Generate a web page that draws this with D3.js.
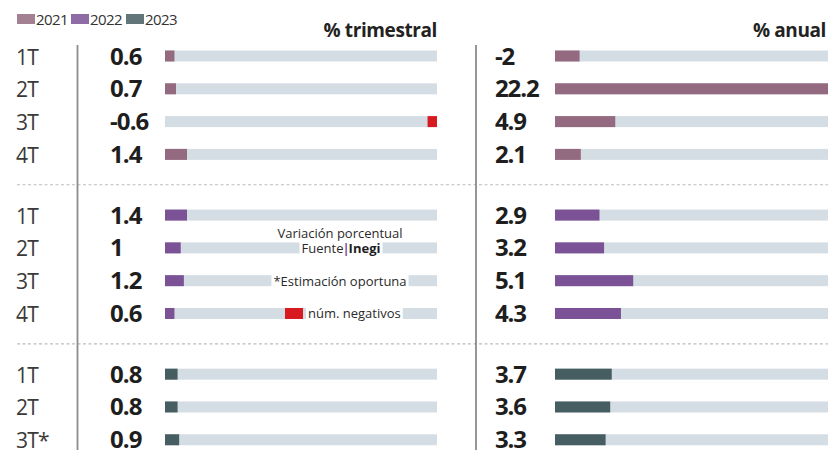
<!DOCTYPE html>
<meta charset="utf-8">
<style>
  body { margin: 0; background: #fff; }
  text { font-family: "Open Sans", "Noto Sans", sans-serif; }
</style>
<svg width="828" height="450"></svg>
<script src="https://cdn.jsdelivr.net/npm/d3@7"></script>
<script>
// data
var series = ["2021", "2022", "2023"]
var colors = ["#946a80", "#7a5295", "#465e62"]
var quarters = ["1T", "2T", "3T", "4T", "1T", "2T", "3T", "4T", "1T", "2T", "3T*"]
var rowYear = ["2021", "2021", "2021", "2021", "2022", "2022", "2022", "2022", "2023", "2023", "2023"]
var trimestral = [0.6, 0.7, -0.6, 1.4, 1.4, 1, 1.2, 0.6, 0.8, 0.8, 0.9]
var anual = [-2, 22.2, 4.9, 2.1, 2.9, 3.2, 5.1, 4.3, 3.7, 3.6, 3.3]
var negColor = "#d71920"
var trackColor = "#d5dde4"

const svg = d3.select('svg')
const color = d3.scaleOrdinal().domain(series).range(colors)
const groupIdx = y => series.indexOf(y)

// vertical position: row index plus a gap per year block
const yPos = d3.scaleLinear().domain([0, 1]).range([56, 88.8])
const slot = i => i + groupIdx(rowYear[i]) * 0.85
const yc = i => yPos(slot(i))

// horizontal scales
const xTri = d3.scaleLinear().domain([0, 17.3]).range([165, 437]).clamp(true)
// 2021 annual block is stretched to its own max, the rest share one
const xAnu21 = d3.scaleLinear().domain([0, 22.2]).range([555, 828]).clamp(true)
const xAnu = d3.scaleLinear().domain([0, 17.8]).range([555, 828]).clamp(true)

const rows = quarters.map((q, i) => ({ i, q, year: rowYear[i], tri: trimestral[i], anu: anual[i] }))

// legend
const leg = svg.append('g').attr('transform', 'translate(17,14)')
const legX = [0, 54, 109]
series.forEach((s, k) => {
  leg.append('rect').attr('x', legX[k]).attr('y', 0).attr('width', 18).attr('height', 10)
    .attr('fill', color(s)).attr('opacity', 0.85)
  leg.append('text').attr('x', legX[k] + 19).attr('y', 10.5).attr('font-size', 15)
    .attr('fill', '#333').attr('letter-spacing', -0.6).text(s)
})

// headers
svg.append('text').attr('x', 437).attr('y', 37).attr('text-anchor', 'end')
  .attr('font-size', 19).attr('font-weight', 700).attr('fill', '#222').attr('letter-spacing', -0.4)
  .text('% trimestral')
svg.append('text').attr('x', 826).attr('y', 37).attr('text-anchor', 'end')
  .attr('font-size', 19).attr('font-weight', 700).attr('fill', '#222').attr('letter-spacing', -0.4)
  .text('% anual')

// dashed separators between year blocks
const sepY = [3, 7].map(i => (yc(i) + yc(i + 1)) / 2)
svg.append('g').selectAll('line').data(sepY).enter().append('line')
  .attr('x1', 17).attr('x2', 828).attr('y1', d => d).attr('y2', d => d)
  .attr('stroke', '#bdbdbd').attr('stroke-width', 1.2).attr('stroke-dasharray', '3,2.5')

// vertical rules
svg.append('line').attr('x1', 77.5).attr('x2', 77.5).attr('y1', 45).attr('y2', 450)
  .attr('stroke', '#8c8c8c').attr('stroke-width', 1.8)
svg.append('line').attr('x1', 476).attr('x2', 476).attr('y1', 45).attr('y2', 450)
  .attr('stroke', '#8c8c8c').attr('stroke-width', 1.8)

// row labels
svg.append('g').selectAll('text').data(rows).enter().append('text')
  .attr('x', 16).attr('y', d => yc(d.i) + 8.5)
  .attr('font-size', 21).attr('font-weight', 400).attr('fill', '#3a3a3a').attr('letter-spacing', -0.8)
  .text(d => d.q)

const barH = 11

// trimestral panel
const tri = svg.append('g')
tri.selectAll('rect.track').data(rows).enter().append('rect').attr('class', 'track')
  .attr('x', xTri(0)).attr('width', xTri.range()[1] - xTri(0))
  .attr('y', d => yc(d.i) - barH / 2).attr('height', barH).attr('fill', trackColor)
tri.selectAll('rect.bar').data(rows).enter().append('rect').attr('class', 'bar')
  .attr('x', d => d.tri < 0 ? xTri.range()[1] - (xTri(-d.tri) - xTri(0)) : xTri(0))
  .attr('width', d => xTri(Math.abs(d.tri)) - xTri(0))
  .attr('y', d => yc(d.i) - barH / 2).attr('height', barH)
  .attr('fill', d => d.tri < 0 ? negColor : color(d.year))
tri.selectAll('text').data(rows).enter().append('text')
  .attr('x', 110).attr('y', d => yc(d.i) + 8.5)
  .attr('font-size', 24).attr('font-weight', 700).attr('fill', '#1e1e1e').attr('letter-spacing', -0.9)
  .text(d => String(d.tri))

// anual panel
const anu = svg.append('g')
const xA = d => d.year === "2021" ? xAnu21 : xAnu
anu.selectAll('rect.track').data(rows).enter().append('rect').attr('class', 'track')
  .attr('x', xAnu(0)).attr('width', xAnu.range()[1] - xAnu(0))
  .attr('y', d => yc(d.i) - barH / 2).attr('height', barH).attr('fill', trackColor)
anu.selectAll('rect.bar').data(rows).enter().append('rect').attr('class', 'bar')
  .attr('x', d => xA(d)(0))
  .attr('width', d => xA(d)(Math.abs(d.anu)) - xA(d)(0))
  .attr('y', d => yc(d.i) - barH / 2).attr('height', barH)
  .attr('fill', d => color(d.year))
anu.selectAll('text').data(rows).enter().append('text')
  .attr('x', 495).attr('y', d => yc(d.i) + 8.5)
  .attr('font-size', 24).attr('font-weight', 700).attr('fill', '#1e1e1e').attr('letter-spacing', -1.1)
  .text(d => String(d.anu))

// notes over the 2022 block
const notes = svg.append('g').attr('font-size', 13).attr('fill', '#2a2a2a')
function boxed(t) {
  const b = t.node().getBBox()
  notes.insert('rect', () => t.node()).attr('x', b.x - 2).attr('y', b.y + 2)
    .attr('width', b.width + 4).attr('height', b.height - 2).attr('fill', '#fff')
}
notes.append('text').attr('x', 340).attr('y', yc(5) - 10).attr('text-anchor', 'middle')
  .text('Variación porcentual')
const fu = notes.append('text').attr('x', 341).attr('y', yc(5) + 5).attr('text-anchor', 'middle')
fu.append('tspan').text('Fuente')
fu.append('tspan').attr('dx', -1).attr('fill', color("2022")).attr('font-weight', 700).text('|')
fu.append('tspan').attr('dx', -1).attr('font-weight', 700).attr('fill', '#1e1e1e').text('Inegi')
boxed(fu)
const es = notes.append('text').attr('x', 340).attr('y', yc(6) + 5).attr('text-anchor', 'middle')
  .text('*Estimación oportuna')
boxed(es)
notes.append('rect').attr('x', 285).attr('y', yc(7) - 5.5).attr('width', 18).attr('height', 11)
  .attr('fill', negColor)
const ng = notes.append('text').attr('x', 308).attr('y', yc(7) + 4.5).text('núm. negativos')
boxed(ng)
</script>
